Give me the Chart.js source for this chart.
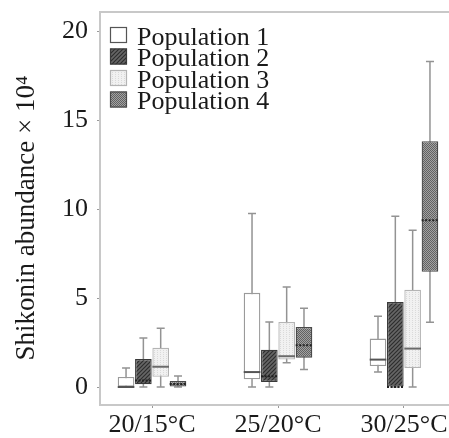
<!DOCTYPE html>
<html>
<head>
<meta charset="utf-8">
<script src="https://cdn.jsdelivr.net/npm/chart.js@4"></script>
<style>
  html, body { margin: 0; padding: 0; background: #fff; overflow: hidden; }
  #wrap { width: 449px; height: 438px; overflow: hidden; }
</style>
</head>
<body>
<div id="wrap"><canvas id="chart" width="470" height="438"></canvas></div>
<script>
  var categories = ['20/15°C', '25/20°C', '30/25°C'];
  var populations = ['Population 1', 'Population 2', 'Population 3', 'Population 4'];
  var yTicks = [0, 5, 10, 15, 20];

  // per population: whisker min, q1, median, q3, whisker max (x 10^4)
  var pop1Min = [0, 0, 0.84];
  var pop1Q1  = [0, 0.43, 1.18];
  var pop1Med = [0, 0.84, 1.54];
  var pop1Q3  = [0.56, 5.29, 2.72];
  var pop1Max = [1.07, 9.75, 3.97];

  var pop2Min = [0, 0, 0];
  var pop2Q1  = [0.15, 0.28, 0];
  var pop2Med = [0.36, 0.6, 0];
  var pop2Q3  = [1.57, 2.1, 4.78];
  var pop2Max = [2.75, 3.65, 9.6];

  var pop3Min = [0, 1.37, 0];
  var pop3Q1  = [0.58, 1.54, 1.07];
  var pop3Med = [1.14, 1.73, 2.16];
  var pop3Q3  = [2.21, 3.66, 5.47];
  var pop3Max = [3.3, 5.62, 8.81];

  var pop4Min = [0, 0.99, 3.64];
  var pop4Q1  = [0, 1.65, 6.47];
  var pop4Med = [0.17, 2.34, 9.37];
  var pop4Q3  = [0.34, 3.37, 13.81];
  var pop4Max = [0.62, 4.42, 18.29];

  var stats = [
    {min: pop1Min, q1: pop1Q1, med: pop1Med, q3: pop1Q3, max: pop1Max},
    {min: pop2Min, q1: pop2Q1, med: pop2Med, q3: pop2Q3, max: pop2Max},
    {min: pop3Min, q1: pop3Q1, med: pop3Med, q3: pop3Q3, max: pop3Max},
    {min: pop4Min, q1: pop4Q1, med: pop4Med, q3: pop4Q3, max: pop4Max}
  ];

  // fill patterns
  function makePattern(kind) {
    var c = document.createElement('canvas');
    var g = c.getContext('2d');
    if (kind === 'hatch') {
      c.width = 4; c.height = 4;
      g.fillStyle = '#666666'; g.fillRect(0, 0, 4, 4);
      g.strokeStyle = '#2e2e2e'; g.lineWidth = 1.2;
      g.beginPath();
      g.moveTo(-1, 5); g.lineTo(5, -1);
      g.moveTo(-1, 1); g.lineTo(1, -1);
      g.moveTo(3, 5); g.lineTo(5, 3);
      g.stroke();
    } else if (kind === 'lines') {
      c.width = 3; c.height = 2;
      g.fillStyle = '#f1f1f1'; g.fillRect(0, 0, 3, 2);
      g.fillStyle = '#dadada'; g.fillRect(1, 0, 1, 1);
    } else {
      c.width = 2; c.height = 2;
      g.fillStyle = '#a2a2a2'; g.fillRect(0, 0, 2, 2);
      g.fillStyle = '#626262'; g.fillRect(0, 0, 1, 1); g.fillRect(1, 1, 1, 1);
    }
    return g.createPattern(c, 'repeat');
  }

  var ctx = document.getElementById('chart').getContext('2d');
  var fills = ['#ffffff', makePattern('hatch'), makePattern('lines'), makePattern('check')];
  var borders = ['#9a9a9a', '#3a3a3a', '#b4b4b4', '#4a4a4a'];
  var medianColors = ['#555555', '#222222', '#6a6a6a', '#222222'];
  var medianDash = [[], [2, 1.5], [], [2, 1.5]];

  var datasets = populations.map(function (name, d) {
    return {
      label: name,
      data: categories.map(function (c, i) {
        return {x: i + 1, y: [stats[d].q1[i], stats[d].q3[i]]};
      }),
      backgroundColor: fills[d],
      borderColor: borders[d],
      borderWidth: 1.3,
      borderSkipped: false,
      categoryPercentage: 0.55,
      barPercentage: 0.96
    };
  });

  var SERIF = '"Liberation Serif", "Times New Roman", serif';

  var boxPlugin = {
    id: 'boxWhiskers',
    beforeDatasetsDraw: function (chart) {
      var y = chart.scales.y;
      var c = chart.ctx;
      c.save();
      c.strokeStyle = '#939393';
      c.lineWidth = 1.5;
      stats.forEach(function (s, d) {
        chart.getDatasetMeta(d).data.forEach(function (bar, i) {
          var x = bar.x;
          var top = y.getPixelForValue(s.max[i]);
          var bot = y.getPixelForValue(s.min[i]);
          c.beginPath();
          c.moveTo(x, top); c.lineTo(x, bot);
          c.moveTo(x - 4, top); c.lineTo(x + 4, top);
          c.moveTo(x - 4, bot); c.lineTo(x + 4, bot);
          c.stroke();
        });
      });
      c.restore();
    },
    afterDatasetsDraw: function (chart) {
      var y = chart.scales.y;
      var c = chart.ctx;
      c.save();
      c.lineWidth = 2;
      stats.forEach(function (s, d) {
        c.strokeStyle = medianColors[d];
        c.setLineDash(medianDash[d]);
        chart.getDatasetMeta(d).data.forEach(function (bar, i) {
          var py = y.getPixelForValue(s.med[i]);
          c.beginPath();
          c.moveTo(bar.x - bar.width / 2, py);
          c.lineTo(bar.x + bar.width / 2, py);
          c.stroke();
        });
      });
      c.restore();
    },
    afterDraw: function (chart) {
      var c = chart.ctx;
      var area = chart.chartArea;
      c.save();
      // top frame line
      c.strokeStyle = '#c8c8c8';
      c.lineWidth = 2;
      c.beginPath();
      c.moveTo(area.left - 1, area.top);
      c.lineTo(area.right, area.top);
      c.stroke();

      // legend
      c.font = '26px ' + SERIF;
      c.textBaseline = 'alphabetic';
      c.textAlign = 'left';
      populations.forEach(function (name, d) {
        var by = 27 + d * 21.5;
        c.fillStyle = fills[d];
        c.fillRect(110, by, 17, 16);
        c.strokeStyle = d === 0 ? '#555' : borders[d];
        c.lineWidth = 1.2;
        c.setLineDash([]);
        c.strokeRect(110.5, by + 0.5, 16, 15);
        c.fillStyle = '#1a1a1a';
        c.fillText(name, 137, by + 17.5);
      });

      // y axis title
      c.translate(27, 218);
      c.rotate(-Math.PI / 2);
      c.textAlign = 'center';
      c.textBaseline = 'middle';
      c.font = '27px ' + SERIF;
      c.fillStyle = '#1a1a1a';
      c.fillText('Shikonin abundance × 10⁴', 0, 0);
      c.restore();
    }
  };

  var myChart = new Chart(ctx, {
    type: 'bar',
    data: {datasets: datasets},
    plugins: [boxPlugin],
    options: {
      responsive: false,
      animation: false,
      layout: {padding: {top: 12, left: 0, right: 0, bottom: 0}},
      plugins: {
        legend: {display: false},
        tooltip: {enabled: false}
      },
      scales: {
        x: {
          type: 'linear',
          offset: false,
          min: 0.587,
          max: 3.524,
          afterBuildTicks: function (axis) {
            axis.ticks = categories.map(function (c, i) { return {value: i + 1}; });
          },
          afterFit: function (scale) {
            scale.height = 33;
            scale.paddingLeft = 0;
            scale.paddingRight = 0;
          },
          ticks: {
            autoSkip: false,
            maxRotation: 0,
            padding: 2,
            color: '#1a1a1a',
            font: {family: SERIF, size: 26},
            callback: function (v) { return categories[v - 1]; }
          },
          grid: {display: true, offset: false, drawOnChartArea: false, drawTicks: true, tickLength: 3, color: '#999'},
          border: {color: '#c8c8c8', width: 2}
        },
        y: {
          min: -1.01,
          max: 21.07,
          afterBuildTicks: function (axis) {
            axis.ticks = yTicks.map(function (v) { return {value: v}; });
          },
          afterFit: function (scale) {
            scale.width = 100;
            scale.paddingTop = 0;
            scale.paddingBottom = 0;
          },
          ticks: {
            padding: 9,
            color: '#1a1a1a',
            font: {family: SERIF, size: 26}
          },
          grid: {display: true, drawOnChartArea: false, drawTicks: true, tickLength: 3, color: '#999'},
          border: {color: '#c8c8c8', width: 2}
        }
      }
    }
  });
</script>
</body>
</html>
